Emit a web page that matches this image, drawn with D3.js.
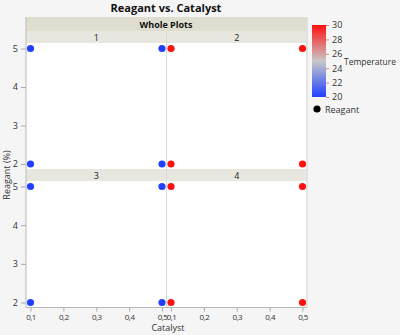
<!DOCTYPE html>
<html>
<head>
<meta charset="utf-8">
<script src="https://cdn.jsdelivr.net/npm/d3@7"></script>
<style>
  html, body { margin: 0; padding: 0; background: #f5f5f5; }
  svg { display: block; font-family: "Open Sans", "Noto Sans", sans-serif; }
</style>
</head>
<body>
<svg id="chart" width="400" height="335"></svg>
<script>
// Whole-plot panels, arranged 2 x 2
const wholePlots = [1, 2, 3, 4];
// Temperature of each whole plot
const plotTemperature = [20, 30, 20, 30];
// Design points inside every whole plot
const catalyst = [0.1, 0.5, 0.1, 0.5];
const reagant = [5, 5, 2, 2];
const xTicks = [0.1, 0.2, 0.3, 0.4, 0.5];
const yTicks = [2, 3, 4, 5];
const legendTicks = [20, 22, 24, 26, 28, 30];

const svg = d3.select("#chart");
const fmtX = v => d3.format(".1f")(v).replace(".", ",");
const fmtY = d3.format("d");
const tickFont = 8;

const left = 26, right = 307, mid = 166.5;
const headerTop = 17, headerH = 14, stripH = 12;
const rowTops = [headerTop + headerH, 169];
const panelBottoms = [169, 307.5];

const color = d3.scaleLinear()
  .domain([20, 25, 30])
  .range(["#2040ff", "#c8c8c8", "#ff1010"])
  .interpolate(d3.interpolateRgb);

// Title
svg.append("text").attr("x", 166).attr("y", 12)
  .attr("text-anchor", "middle").attr("font-weight", "bold")
  .attr("font-size", 11).attr("fill", "#111").text("Reagant vs. Catalyst");

// Whole Plots header
svg.append("rect").attr("x", left).attr("y", headerTop)
  .attr("width", right - left).attr("height", headerH).attr("fill", "#dfddd0");
svg.append("text").attr("x", 166).attr("y", headerTop + 10.5)
  .attr("text-anchor", "middle").attr("font-weight", "bold")
  .attr("font-size", 9).attr("fill", "#111").text("Whole Plots");

const cols = [[left, mid], [mid, right]];

wholePlots.forEach((wp, i) => {
  const r = Math.floor(i / 2), c = i % 2;
  const [x0, x1] = cols[c];
  const stripTop = rowTops[r];
  const pTop = stripTop + stripH, pBot = panelBottoms[r];

  const x = d3.scaleLinear().domain([0.1, 0.5]).range([x0 + 4.5, x1 - 4.5]);
  const y = d3.scaleLinear().domain([2, 5]).range([pBot - 5, pTop + 5.5]);

  // strip
  svg.append("rect").attr("x", x0).attr("y", stripTop)
    .attr("width", x1 - x0).attr("height", stripH).attr("fill", "#e8e7df");
  svg.append("text").attr("x", (x0 + x1) / 2).attr("y", stripTop + 9.5)
    .attr("text-anchor", "middle").attr("font-size", 9).attr("fill", "#222")
    .text(wp);

  // panel
  svg.append("rect").attr("x", x0).attr("y", pTop)
    .attr("width", x1 - x0).attr("height", pBot - pTop).attr("fill", "#fff");

  // points
  svg.append("g").selectAll("circle").data(catalyst).join("circle")
    .attr("cx", (d) => x(d))
    .attr("cy", (d, k) => y(reagant[k]))
    .attr("r", 3.6)
    .attr("fill", color(plotTemperature[i]));

  // y axis on left column
  if (c === 0) {
    const ya = svg.append("g").attr("transform", `translate(${left},0)`)
      .call(d3.axisLeft(y).tickValues(yTicks).tickFormat(fmtY).tickSize(5).tickPadding(3));
    ya.select(".domain").remove();
    ya.selectAll("line").attr("stroke", "#aaa");
    ya.selectAll("text").attr("font-size", 9).attr("fill", "#333")
      .attr("font-family", "Open Sans, sans-serif");
  }
  // x axis on bottom row
  if (r === 1) {
    const xa = svg.append("g").attr("transform", `translate(0,${pBot})`)
      .call(d3.axisBottom(x).tickValues(xTicks).tickFormat(fmtX).tickSize(4).tickPadding(3));
    xa.select(".domain").remove();
    xa.selectAll("line").attr("stroke", "#aaa");
    xa.selectAll("text").attr("font-size", tickFont).attr("fill", "#333")
      .attr("letter-spacing", -0.5)
      .attr("font-family", "Open Sans, sans-serif");
  }
});

// panel dividers and frame
svg.append("line").attr("x1", mid).attr("x2", mid)
  .attr("y1", headerTop + headerH).attr("y2", panelBottoms[1])
  .attr("stroke", "#d8d8d8").attr("stroke-width", 1);
svg.append("line").attr("x1", left).attr("x2", left)
  .attr("y1", headerTop).attr("y2", panelBottoms[1])
  .attr("stroke", "#b8b8b8");
svg.append("line").attr("x1", left).attr("x2", right)
  .attr("y1", panelBottoms[1]).attr("y2", panelBottoms[1])
  .attr("stroke", "#b8b8b8");
svg.append("line").attr("x1", right).attr("x2", right)
  .attr("y1", headerTop).attr("y2", panelBottoms[1])
  .attr("stroke", "#dcdcdc").attr("stroke-width", 1.5);

// axis titles
svg.append("text").attr("x", 168).attr("y", 331)
  .attr("text-anchor", "middle").attr("font-size", 9).attr("fill", "#333")
  .text("Catalyst");
svg.append("text").attr("transform", "translate(10,175) rotate(-90)")
  .attr("text-anchor", "middle").attr("font-size", 9).attr("fill", "#333")
  .text("Reagant (%)");

// colour legend
const lgTop = 25, lgBot = 97, lgX = 312, lgW = 14;
const defs = svg.append("defs");
const grad = defs.append("linearGradient").attr("id", "tempGrad")
  .attr("x1", 0).attr("y1", 1).attr("x2", 0).attr("y2", 0);
[20, 25, 30].forEach(t => {
  grad.append("stop").attr("offset", (t - 20) / 10).attr("stop-color", color(t));
});
svg.append("rect").attr("x", lgX).attr("y", lgTop).attr("width", lgW)
  .attr("height", lgBot - lgTop).attr("fill", "url(#tempGrad)");
const ly = d3.scaleLinear().domain([20, 30]).range([lgBot, lgTop]);
const la = svg.append("g").attr("transform", `translate(${lgX + lgW},0)`)
  .call(d3.axisRight(ly).tickValues(legendTicks).tickSize(3).tickPadding(3));
la.select(".domain").remove();
la.selectAll("line").attr("stroke", "#f08080");
la.selectAll("text").attr("font-size", 9).attr("fill", "#333")
  .attr("font-family", "Open Sans, sans-serif");
svg.append("text").attr("x", 344).attr("y", 65).attr("font-size", 8.5)
  .attr("fill", "#333").text("Temperature");

svg.append("circle").attr("cx", 317).attr("cy", 109).attr("r", 3.6).attr("fill", "#000");
svg.append("text").attr("x", 325).attr("y", 112.5).attr("font-size", 9)
  .attr("fill", "#333").text("Reagant");
</script>
</body>
</html>
